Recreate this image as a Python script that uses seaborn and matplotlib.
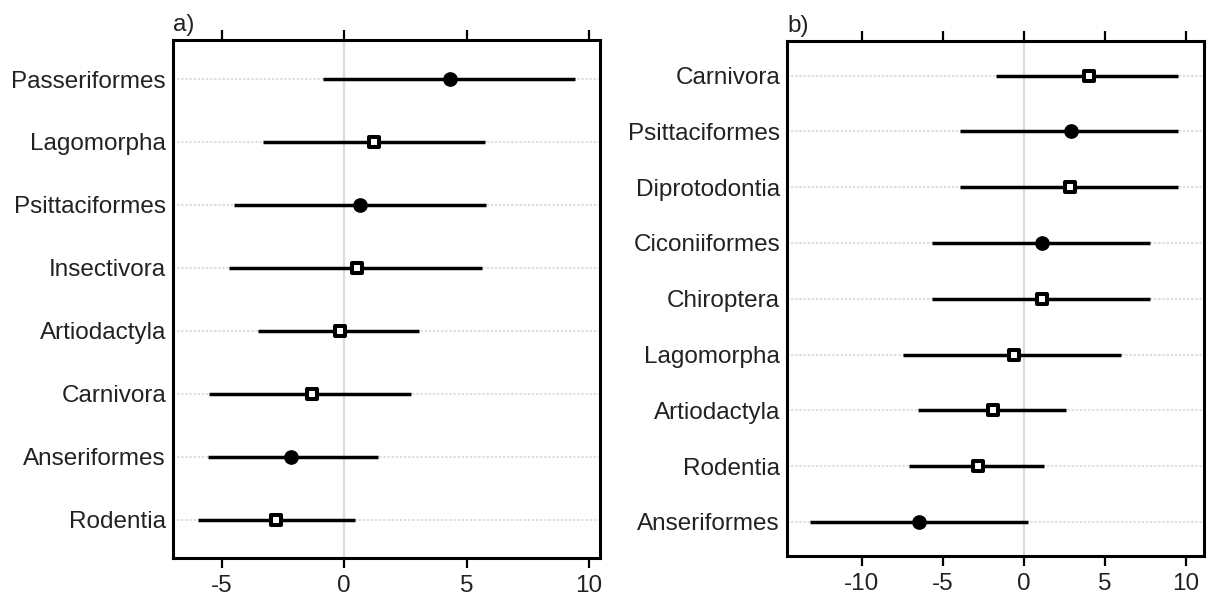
import numpy as np
import pandas as pd
import matplotlib
matplotlib.use("Agg")
import matplotlib.pyplot as plt
import seaborn as sns

# ---- data panel a ----
a_orders = ["Passeriformes", "Lagomorpha", "Psittaciformes", "Insectivora",
            "Artiodactyla", "Carnivora", "Anseriformes", "Rodentia"]
a_est = [4.30, 1.22, 0.63, 0.51, -0.18, -1.31, -2.18, -2.81]
a_lo = [-0.89, -3.34, -4.52, -4.70, -3.52, -5.52, -5.58, -5.97]
a_hi = [9.43, 5.73, 5.80, 5.61, 3.05, 2.74, 1.38, 0.42]
a_class = ["bird", "mammal", "bird", "mammal", "mammal", "mammal", "bird", "mammal"]

# ---- data panel b ----
b_orders = ["Carnivora", "Psittaciformes", "Diprotodontia", "Ciconiiformes",
            "Chiroptera", "Lagomorpha", "Artiodactyla", "Rodentia", "Anseriformes"]
b_est = [4.01, 2.90, 2.84, 1.11, 1.11, -0.60, -1.93, -2.84, -6.48]
b_lo = [-1.69, -3.91, -3.91, -5.66, -5.66, -7.47, -6.52, -7.10, -13.17]
b_hi = [9.51, 9.51, 9.51, 7.78, 7.78, 5.97, 2.57, 1.23, 0.25]
b_class = ["mammal", "bird", "mammal", "bird", "mammal", "mammal", "mammal", "mammal", "bird"]

x_ticks = {"a": [-5, 0, 5, 10], "b": [-10, -5, 0, 5, 10]}

sns.set_theme(style="white")
plt.rcParams["font.family"] = ["Liberation Sans", "DejaVu Sans"]

W, H, DPI = 1212, 596, 100
fig = plt.figure(figsize=(W / DPI, H / DPI), dpi=DPI)

def frac(l, r, t, b):
    return [l / W, 1 - b / H, (r - l) / W, (b - t) / H]

ax_a = fig.add_axes(frac(173, 600, 40, 558))
ax_b = fig.add_axes(frac(787, 1204, 41, 556))

def draw(ax, orders, est, lo, hi, cls, ticks, xlim, label, h_px):
    df = pd.DataFrame({"order": orders, "est": est, "lo": lo, "hi": hi, "cls": cls})
    df["pos"] = np.arange(len(df))
    n = len(df)
    # grid
    for p in df["pos"]:
        ax.axhline(p, color="#d4d4d4", lw=1.1, ls=(0, (1.5, 1.2)), zorder=0)
    ax.axvline(0, color="#dcdcdc", lw=1.6, zorder=0)
    # CI
    ax.hlines(df["pos"], df["lo"], df["hi"], color="black", lw=2.5, zorder=2)
    birds = df[df["cls"] == "bird"]
    mams = df[df["cls"] == "mammal"]
    sns.scatterplot(data=birds, x="est", y="pos", ax=ax, marker="o", s=112,
                    color="black", edgecolor="black", linewidth=0, zorder=3)
    sns.scatterplot(data=mams, x="est", y="pos", ax=ax, marker="s", s=54,
                    facecolor="white", edgecolor="black", linewidth=2.9, zorder=3)
    ax.set_xlim(*xlim)
    ax.set_ylim(n - 1 + 0.61, -0.62)
    ax.set_yticks(df["pos"])
    ax.set_yticklabels(df["order"])
    ax.set_xticks(ticks)
    ax.set_xticklabels([str(t) for t in ticks])
    ax.set_xlabel("")
    ax.set_ylabel("")
    ax.tick_params(axis="y", length=0, pad=5, labelsize=17.5, labelcolor="#222222")
    ax.tick_params(axis="x", which="both", bottom=True, top=True, direction="out",
                   length=7, width=1.6, color="black", pad=5,
                   labelsize=17.5, labelcolor="#222222")
    for s in ax.spines.values():
        s.set_visible(True)
        s.set_color("black")
        s.set_linewidth(2.2)
    ax.grid(False)
    ax.text(0.0, 1 + 9 / h_px, label, transform=ax.transAxes, ha="left", va="baseline",
            fontsize=17.5, color="#222222")

draw(ax_a, a_orders, a_est, a_lo, a_hi, a_class, x_ticks["a"], (-7.0, 10.45), "a)", 518)
draw(ax_b, b_orders, b_est, b_lo, b_hi, b_class, x_ticks["b"], (-14.6, 11.1), "b)", 515)

fig.savefig("out.png", dpi=DPI, facecolor="white")
